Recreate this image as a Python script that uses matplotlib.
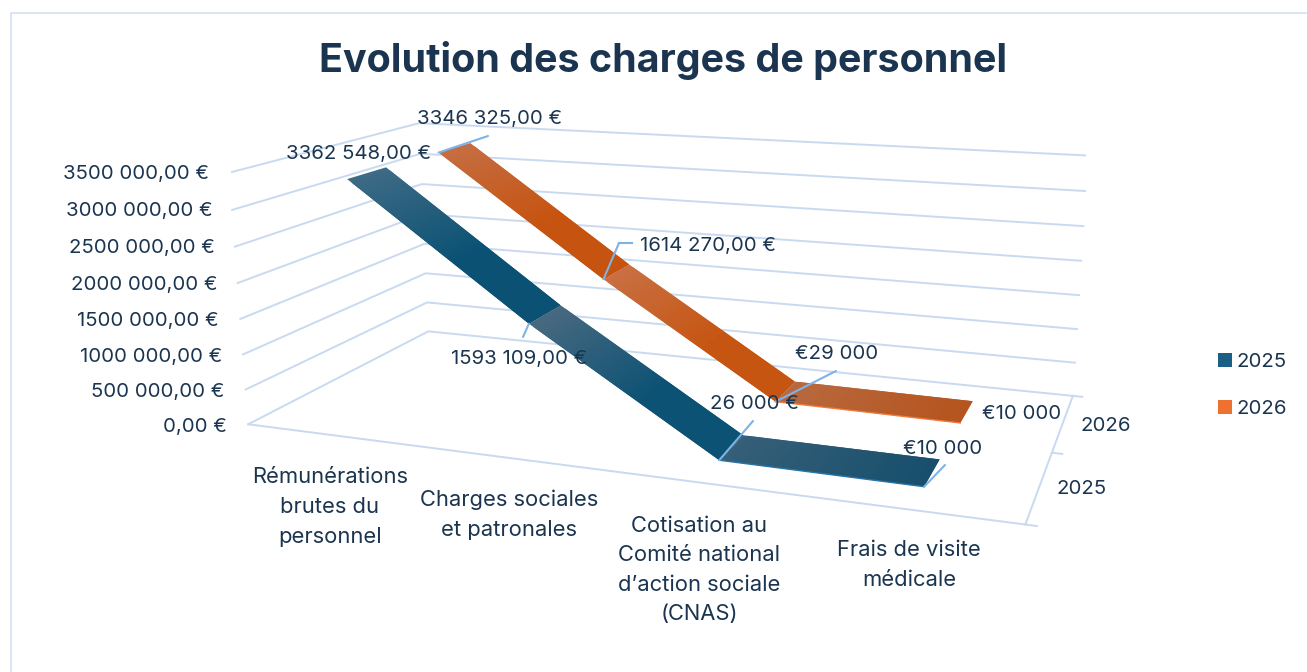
import numpy as np
import matplotlib
matplotlib.use("Agg")
import matplotlib.pyplot as plt
from matplotlib.colors import to_rgb
from matplotlib.patches import Patch, Rectangle
from mpl_toolkits.mplot3d import proj3d
from mpl_toolkits.mplot3d.art3d import Poly3DCollection

plt.rcParams["font.family"] = ["Inter", "DejaVu Sans"]

# data
categories = ["Rémunérations\nbrutes du\npersonnel", "Charges sociales\net patronales",
              "Cotisation au\nComité national\nd’action sociale\n(CNAS)", "Frais de visite\nmédicale"]
series_names = ["2025", "2026"]
values_2025 = [3362548, 1593109, 26000, 10000]
values_2026 = [3346325, 1614270, 29000, 10000]
labels_2025 = ["3362 548,00 €", "1593 109,00 €", "26 000 €", "€10 000"]
labels_2026 = ["3346 325,00 €", "1614 270,00 €", "€29 000", "€10 000"]
z_ticks = [0, 500000, 1000000, 1500000, 2000000, 2500000, 3000000, 3500000]
z_labels = ["0,00 €", "500 000,00 €", "1000 000,00 €", "1500 000,00 €", "2000 000,00 €",
            "2500 000,00 €", "3000 000,00 €", "3500 000,00 €"]

W, H = 1307, 672
TEXT = "#1B3550"
GRID = "#C9DAF0"
LEADER = "#7FB2E5"
FS = 14.7

fig = plt.figure(figsize=(W / 100, H / 100), dpi=100)
ax = fig.add_axes([230.52 / W, -56.67 / H, 855.73 / W, 855.73 / H], projection="3d", computed_zorder=False)
ax.set_xlim(0, 4, view_margin=0)
ax.set_ylim(0, 2, view_margin=0)
ax.set_zlim(0, 3500000, view_margin=0)
ax.view_init(13.961, -69.642, 0.284)
ax.set_proj_type("persp", focal_length=0.3314)
ax.set_box_aspect((3.0052, 1.4437, 1))
ax.set_axis_off()


def put(x, y, s, **kw):
    kw.setdefault("color", TEXT)
    kw.setdefault("fontsize", FS)
    kw.setdefault("va", "center")
    # matplotlib centres on the text box, which sits a little high
    return fig.text(x / W, 1 - (y + 2) / H, s, **kw)


fig.add_artist(Rectangle((10.5 / W, -0.1), 1.1, 1 - 12.5 / H + 0.1, transform=fig.transFigure,
                         fill=False, ec="#D3E2F1", lw=1.2))

# walls and floor
for z in z_ticks:
    ax.plot([0, 0, 4], [0, 2, 2], [z, z, z], color=GRID, lw=1.4, zorder=1)
ax.plot([0, 4, 4], [0, 0, 2], [0, 0, 0], color=GRID, lw=1.4, zorder=1)
for y in [0, 1, 2]:
    ax.plot([4, 4.05], [y, y], [0, 0], color=GRID, lw=1.4, zorder=1)


def ribbon(values, y0, hw, light, dark, edge, zo):
    xs = np.arange(len(values)) + 0.5
    n = 40
    for i in range(len(values) - 1):
        t = np.linspace(0, 1, n + 1)
        xx = xs[i] + t * (xs[i + 1] - xs[i])
        zz = values[i] + t * (values[i + 1] - values[i])
        for j in range(n):
            # each strip overlaps the next one so no seam shows
            k = min(j + 2, n)
            f = min(1, j / (n - 1) / 0.6) if i < 2 else j / (n - 1)
            col = tuple(np.array(to_rgb(light[i])) * (1 - f) + np.array(to_rgb(dark[i])) * f)
            poly = [(xx[j], y0 - hw, zz[j]), (xx[k], y0 - hw, zz[k]),
                    (xx[k], y0 + hw, zz[k]), (xx[j], y0 + hw, zz[j])]
            ax.add_collection3d(Poly3DCollection([poly], facecolors=[col], edgecolors="none",
                                                 linewidths=0, zorder=zo + (i * n + j) * 1e-4))
    ax.plot(xs[2:], [y0 - hw] * 2, values[2:], color=edge, lw=1.0, zorder=zo + 0.9)
    return xs


HW = 0.2
xs_a = ribbon(values_2026, 1.5, HW, ["#C56D42", "#C96F42", "#B8693F"], ["#C6530F", "#C65512", "#B5541E"], "#F07A3A", 3)
xs_b = ribbon(values_2025, 0.5, HW, ["#3D6A85", "#47697F", "#365F78"], ["#0A5173", "#0C5274", "#174F6C"], "#2A75A8", 4)

M = ax.get_proj()


def leader(x, y, z, path):
    u, v, _ = proj3d.proj_transform(x, y, z, M)
    for i, (px, py) in enumerate(path):
        if i == 0:
            ax.annotate("", xy=(u, v), xytext=(px, H - py), textcoords="figure pixels",
                        arrowprops=dict(arrowstyle="-", color=LEADER, lw=1.5, shrinkA=0, shrinkB=0), zorder=6)
        else:
            q0 = path[i - 1]
            fig.add_artist(plt.Line2D([q0[0] / W, px / W], [1 - q0[1] / H, 1 - py / H], color=LEADER, lw=1.5))


leader(xs_a[0], 1.5 - HW, values_2026[0], [(488, 136)])
leader(xs_a[1], 1.5 - HW, values_2026[1], [(619, 243), (632, 243)])
leader(xs_a[2], 1.5 - HW, values_2026[2], [(836, 371)])
leader(xs_b[1], 0.5 - HW, values_2025[1], [(523, 337)])
leader(xs_b[2], 0.5 - HW, values_2025[2], [(753, 421)])
leader(xs_b[3], 0.5 - HW, values_2025[3], [(945, 465)])

# value labels
put(286, 152, labels_2025[0])
put(451, 357, labels_2025[1])
put(710, 402, labels_2025[2])
put(903, 447, labels_2025[3])
put(417, 117, labels_2026[0])
put(640, 244, labels_2026[1])
put(795, 352, labels_2026[2])
put(982, 412, labels_2026[3])

# axis labels
z_right = [227, 224, 222, 219, 217, 215, 213, 209]
z_y = [425, 390, 355, 319, 283, 246, 209, 172]
for lab, xr, y in zip(z_labels, z_right, z_y):
    put(xr, y, lab, ha="right")
cat_pos = [(330, 505), (509, 513), (699, 568), (909, 563)]
for lab, (x, y) in zip(categories, cat_pos):
    put(x, y, lab, ha="center", multialignment="center", fontsize=15.8, linespacing=1.6)
put(1081, 424, series_names[1])
put(1057, 487, series_names[0])

put(663.5, 58, "Evolution des charges de personnel", fontsize=28.4, fontweight="bold", ha="center")

handles = [Patch(facecolor="#1A5F85", label=series_names[0]), Patch(facecolor="#F0712F", label=series_names[1])]
fig.legend(handles=handles, loc="center left", bbox_to_anchor=(1218 / W, 1 - 385.5 / H), frameon=False,
           fontsize=FS, labelcolor=TEXT, handlelength=0.68, handleheight=0.68, handletextpad=0.25, labelspacing=1.42,
           borderpad=0, borderaxespad=0)

fig.savefig("out.png", dpi=100)
